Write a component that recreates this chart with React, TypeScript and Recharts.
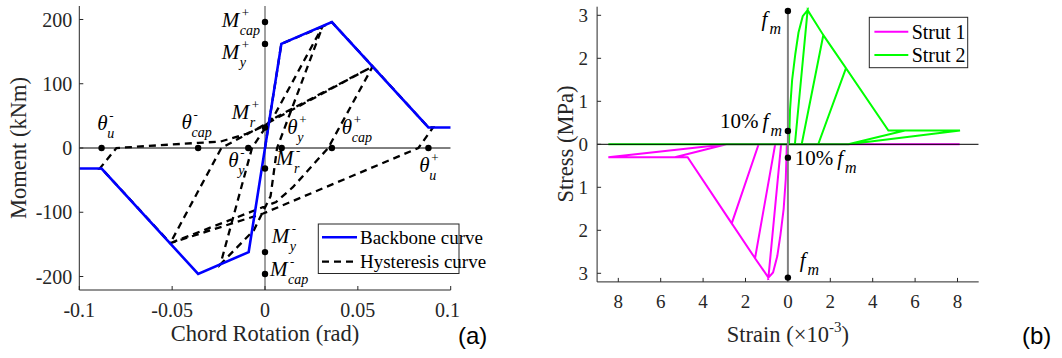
import { ComposedChart, Line, Scatter, XAxis, YAxis } from "recharts";

const serif = "'Liberation Serif', 'Times New Roman', serif";
const sans = "'Liberation Sans', Arial, sans-serif";
const ink = "#262626";

// ---------- (a) moment vs chord rotation ----------
const rotTicks = [-0.1, -0.05, 0, 0.05, 0.1];
const momTicks = [-200, -100, 0, 100, 200];

const backboneRot = [-0.1, -0.088, -0.036, -0.0088, 0.0088, 0.036, 0.088, 0.1];
const backboneMom = [-32, -32, -196, -162, 162, 196, 32, 32];

const hystRot = [
  0, 0.0088, 0.031, 0.0065, 0.003, -0.006, -0.024, -0.007, 0.0005, 0.0045, 0.031,
  0.036, 0.058, 0.034, 0.015, 0.006, -0.017, -0.051, -0.0235, 0.058, 0.088, 0.0905,
  0.0826, -0.001, -0.051, -0.088, -0.089, -0.08, -0.036, -0.024, -0.01, 0, 0.006, 0.058,
];
const hystMom = [
  0, 162, 189, 0, -75, -128, -181, 0, 33, 48, 189,
  196, 127, 0, -61, -84, -110, -148, 0, 127, 32, 32,
  0, -102, -148, -32, -32, 0, 8, 10, 22, 35, 48, 127,
];

const thetaMarks = [-0.088, -0.036, -0.009, 0.009, 0.036, 0.088];
const momentMarks = [196, 162, 32, -32, -162, -196];

const symbolNotes = [
  { x: -0.0903, y: 28.6, base: "θ", sup: "-", sub: "u" },
  { x: -0.0449, y: 30.2, base: "θ", sup: "-", sub: "cap" },
  { x: -0.0198, y: -29.6, base: "θ", sup: "-", sub: "y" },
  { x: 0.012, y: 22.4, base: "θ", sup: "+", sub: "y" },
  { x: 0.0413, y: 22.4, base: "θ", sup: "+", sub: "cap" },
  { x: 0.0831, y: -37.4, base: "θ", sup: "+", sub: "u" },
  { x: -0.0233, y: 188.3, base: "M", sup: "+", sub: "cap" },
  { x: -0.0233, y: 139.1, base: "M", sup: "+", sub: "y" },
  { x: -0.0179, y: 45.8, base: "M", sup: "+", sub: "r" },
  { x: 0.0059, y: -26.9, base: "M", sup: "-", sub: "r" },
  { x: 0.0036, y: -148.5, base: "M", sup: "-", sub: "y" },
  { x: 0.0027, y: -199.5, base: "M", sup: "-", sub: "cap" },
];

// ---------- (b) strut stress vs strain ----------
const strainTicks = [-8, -6, -4, -2, 0, 2, 4, 6, 8];
const stressTicks = [-3, -2, -1, 0, 1, 2, 3];

const strut1Strain = [
  -0.05, -0.1, -0.2, -0.35, -0.5, -0.7, -0.92, -0.32, 1, -0.32, -0.92, -1.55, -0.6, 1.7,
  -0.6, -1.55, -2.65, -1.38, 2.8, -1.38, -2.65, -4.73, -5.33, -2.9, 4.8, -2.9, -5.33,
  -8.47, -2.9, 8.1,
];
const strut1Stress = [
  0, -0.8, -1.5, -2.1, -2.6, -2.98, -3.1, 0, 0, 0, -3.1, -2.65, 0, 0,
  0, -2.65, -1.84, 0, 0, 0, -1.84, -0.3, -0.3, 0, 0, 0, -0.3,
  -0.3, 0, 0,
];
const strut2Strain = [
  0.05, 0.1, 0.2, 0.35, 0.5, 0.7, 0.93, 0.33, -1, 0.33, 0.93, 1.67, 0.65, -1.7,
  0.65, 1.67, 2.74, 1.43, -2.8, 1.43, 2.74, 4.74, 5.52, 2.85, -4.8, 2.85, 5.52,
  8.12, 2.85, -8.47,
];
const strut2Stress = [
  0, 0.8, 1.5, 2.1, 2.6, 2.98, 3.12, 0, 0, 0, 3.12, 2.54, 0, 0,
  0, 2.54, 1.77, 0, 0, 0, 1.77, 0.32, 0.32, 0, 0, 0, 0.32,
  0.32, 0, 0,
];

const fmMarks = [3.1, 0.31, -0.31, -3.1];

const fmNotes = [
  { x: -1.24, y: 2.74, pre: "" },
  { x: -3.2, y: 0.37, pre: "10%" },
  { x: 0.32, y: -0.48, pre: "10%" },
  { x: 0.56, y: -2.85, pre: "" },
];

const zip = (xs: number[], ys: number[]) => xs.map((x, i) => ({ x, y: ys[i] }));

const backbone = zip(backboneRot, backboneMom);
const hysteresis = zip(hystRot, hystMom);
const thetaDots = thetaMarks.map((x) => ({ x, y: 0 }));
const momentDots = momentMarks.map((y) => ({ x: 0, y }));
const strut1 = zip(strut1Strain, strut1Stress);
const strut2 = zip(strut2Strain, strut2Stress);
const fmDots = fmMarks.map((y) => ({ x: 0, y }));

const rotDomain: [number, number] = [-0.1, 0.1];
const momDomain: [number, number] = [-221, 221];
const strainDomain: [number, number] = [-9, 9];
const stressDomain: [number, number] = [-3.2, 3.2];

const tickFont = (size: number) => ({ fontSize: size, fontFamily: serif, fill: ink });

const dotShape = (p: any) => <circle cx={p.cx} cy={p.cy} r={3.2} fill="#000" />;

const symbolShape = (p: any) => {
  const { cx, cy, payload } = p;
  const isM = payload.base === "M";
  return (
    <g fontFamily={serif} fill="#000">
      <text x={cx} y={cy} fontSize={21} fontStyle="italic">
        {payload.base}
      </text>
      <text x={cx + (isM ? 20 : 12)} y={cy - 10} fontSize={13}>
        {payload.sup}
      </text>
      <text x={cx + (isM ? 18 : 10)} y={cy + 8} fontSize={14} fontStyle="italic">
        {payload.sub}
      </text>
    </g>
  );
};

const fmShape = (p: any) => {
  const { cx, cy, payload } = p;
  return (
    <text x={cx} y={cy} fontFamily={serif} fontSize={21} fill="#000">
      {payload.pre && <tspan>{payload.pre}</tspan>}
      <tspan dx={payload.pre ? 4 : 0} fontStyle="italic">f</tspan>
      <tspan dx={2} dy={8} fontSize={16} fontStyle="italic">m</tspan>
    </text>
  );
};

function PanelA() {
  return (
    <ComposedChart width={460} height={358} margin={{ top: 6, right: 9.3, bottom: 0, left: 0 }}>
      <XAxis dataKey="x" type="number" domain={rotDomain} ticks={rotTicks} allowDataOverflow
        height={68} tickSize={-4} tickMargin={17} stroke={ink} tick={tickFont(20)} />
      <XAxis xAxisId="t" orientation="top" dataKey="x" type="number" domain={rotDomain}
        ticks={rotTicks} allowDataOverflow height={0} tickSize={-4} tick={false} stroke={ink} />
      <YAxis dataKey="y" type="number" domain={momDomain} ticks={momTicks} allowDataOverflow
        width={79.3} tickSize={-4} tickMargin={11} stroke={ink} tick={tickFont(20)} />
      <YAxis yAxisId="r" orientation="right" dataKey="y" type="number" domain={momDomain}
        ticks={momTicks} allowDataOverflow width={0} tickSize={-4} tick={false} stroke={ink} />
      <Line data={[{ x: -0.1, y: 0 }, { x: 0.1, y: 0 }]} dataKey="y" stroke="#000" strokeWidth={1}
        dot={false} activeDot={false} isAnimationActive={false} />
      <Line data={[{ x: 0, y: -221 }, { x: 0, y: 221 }]} dataKey="y" stroke="#808080" strokeWidth={1.5}
        dot={false} activeDot={false} isAnimationActive={false} />
      <Line data={hysteresis} dataKey="y" stroke="#000" strokeWidth={2.3} strokeDasharray="7 5"
        dot={false} activeDot={false} isAnimationActive={false} />
      <Line data={backbone} dataKey="y" stroke="#0000ff" strokeWidth={2.6}
        dot={false} activeDot={false} isAnimationActive={false} />
      <Scatter data={thetaDots} shape={dotShape} isAnimationActive={false} />
      <Scatter data={momentDots} shape={dotShape} isAnimationActive={false} />
      <Scatter data={symbolNotes} shape={symbolShape} isAnimationActive={false} />
    </ComposedChart>
  );
}

function PanelB() {
  return (
    <ComposedChart width={532} height={358} margin={{ top: 6.7, right: 83.3, bottom: 0, left: 0 }}>
      <XAxis dataKey="x" type="number" domain={strainDomain} ticks={strainTicks} allowDataOverflow
        height={76.1} tickSize={-4} tickMargin={17} stroke={ink} tick={tickFont(19)}
        tickFormatter={(v: number) => String(Math.abs(v))} />
      <XAxis xAxisId="t" orientation="top" dataKey="x" type="number" domain={strainDomain}
        ticks={strainTicks} allowDataOverflow height={0} tickSize={-4} tick={false} stroke={ink} />
      <YAxis dataKey="y" type="number" domain={stressDomain} ticks={stressTicks} allowDataOverflow
        width={67.1} tickSize={-4} tickMargin={13} stroke={ink} tick={tickFont(19)}
        tickFormatter={(v: number) => String(Math.abs(v))} />
      <YAxis yAxisId="r" orientation="right" dataKey="y" type="number" domain={stressDomain}
        ticks={stressTicks} allowDataOverflow width={0} tickSize={-4} tick={false} stroke={ink} />
      <Line data={strut1} dataKey="y" stroke="#ff00ff" strokeWidth={2}
        dot={false} activeDot={false} isAnimationActive={false} />
      <Line data={strut2} dataKey="y" stroke="#00ff00" strokeWidth={2}
        dot={false} activeDot={false} isAnimationActive={false} />
      <Line data={[{ x: -9, y: 0 }, { x: 9, y: 0 }]} dataKey="y" stroke="#000" strokeWidth={1}
        dot={false} activeDot={false} isAnimationActive={false} />
      <Line data={[{ x: 0, y: -3.1 }, { x: 0, y: 3.1 }]} dataKey="y" stroke="#808080" strokeWidth={2}
        dot={false} activeDot={false} isAnimationActive={false} />
      <Scatter data={fmDots} shape={dotShape} isAnimationActive={false} />
      <Scatter data={fmNotes} shape={fmShape} isAnimationActive={false} />
    </ComposedChart>
  );
}

function Overlay() {
  return (
    <svg width={1062} height={358} style={{ position: "absolute", left: 0, top: 0, pointerEvents: "none" }}>
      <g fontFamily={serif} fontSize={22.5} fill={ink}>
        <text x={265} y={341} textAnchor="middle">Chord Rotation (rad)</text>
        <text transform="translate(25.5,148) rotate(-90)" textAnchor="middle">Moment (kNm)</text>
        <text x={787.9} y={341.7} textAnchor="middle">
          <tspan>Strain (×10</tspan>
          <tspan dy={-10} fontSize={15}>-3</tspan>
          <tspan dy={10}>)</tspan>
        </text>
        <text transform="translate(572.5,144) rotate(-90)" textAnchor="middle">Stress (MPa)</text>
      </g>

      {/* legend (a) */}
      <g fontFamily={serif} fontSize={19} fill="#000">
        <rect x={318.3} y={224} width={140.7} height={49.5} fill="#fff" stroke={ink} strokeWidth={1} />
        <line x1={322} y1={237.3} x2={357} y2={237.3} stroke="#0000ff" strokeWidth={2.6} />
        <line x1={322} y1={261.7} x2={357} y2={261.7} stroke="#000" strokeWidth={2.3} strokeDasharray="7 5" />
        <text x={360} y={243.8}>Backbone curve</text>
        <text x={360} y={268.2}>Hysteresis curve</text>
      </g>

      {/* legend (b) */}
      <g fontFamily={serif} fontSize={20} fill="#000">
        <rect x={869.3} y={17.3} width={98.4} height={50.4} fill="#fff" stroke={ink} strokeWidth={1} />
        <line x1={874.4} y1={31.7} x2={908.3} y2={31.7} stroke="#ff00ff" strokeWidth={2} />
        <line x1={874.4} y1={55} x2={908.3} y2={55} stroke="#00ff00" strokeWidth={2} />
        <text x={911.7} y={38.5}>Strut 1</text>
        <text x={911.7} y={61.8}>Strut 2</text>
      </g>

      <g fontFamily={sans} fontSize={24} fill="#000">
        <text x={458} y={344}>(a)</text>
        <text x={1022} y={344}>(b)</text>
      </g>
    </svg>
  );
}

export default function App() {
  return (
    <div style={{ position: "fixed", left: 0, top: 0, width: 1062, height: 358, background: "#fff" }}>
      <div style={{ position: "absolute", left: 0, top: 0 }}>
        <PanelA />
      </div>
      <div style={{ position: "absolute", left: 530, top: 0 }}>
        <PanelB />
      </div>
      <Overlay />
    </div>
  );
}
